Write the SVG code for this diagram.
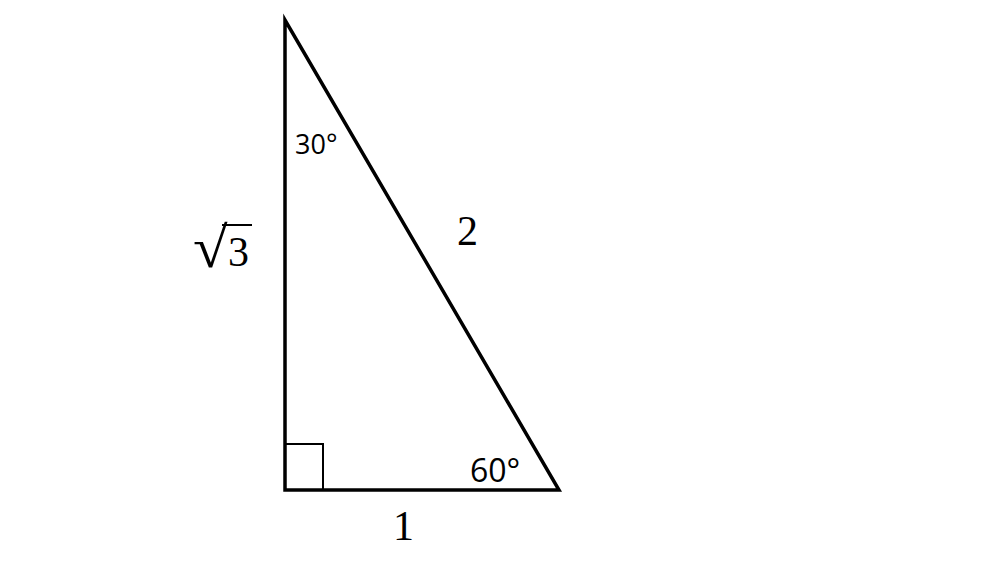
<svg xmlns="http://www.w3.org/2000/svg" width="1000" height="562" viewBox="0 0 1000 562">
<style>
.edge{fill:none;stroke:#000;stroke-width:3.5;stroke-linejoin:miter}
.thin{fill:none;stroke:#000;stroke-width:2}
.ang{font-family:"Open Sans","Liberation Sans",sans-serif;fill:#000}
.math{font-family:"Liberation Serif","DejaVu Serif",serif;font-size:42px;fill:#000}
</style>
<rect width="1000" height="562" fill="#fff"/>
<g id="triangle">
<polygon class="edge" points="285,20 285,490 559,490"/>
<rect class="thin" x="285" y="444" width="38" height="46"/>
</g>
<g id="labels">
<text class="ang" x="295" y="154" font-size="27">30°</text>
<text class="ang" x="470" y="482" font-size="32">60°</text>
<text class="math" transform="translate(193,267) scale(1.5,1.36)">√</text>
<text class="math" x="228" y="266">3</text>
<line class="thin" x1="222" y1="225" x2="252" y2="225"/>
<text class="math" x="457" y="245">2</text>
<text class="math" x="393" y="540">1</text>
</g>
</svg>
